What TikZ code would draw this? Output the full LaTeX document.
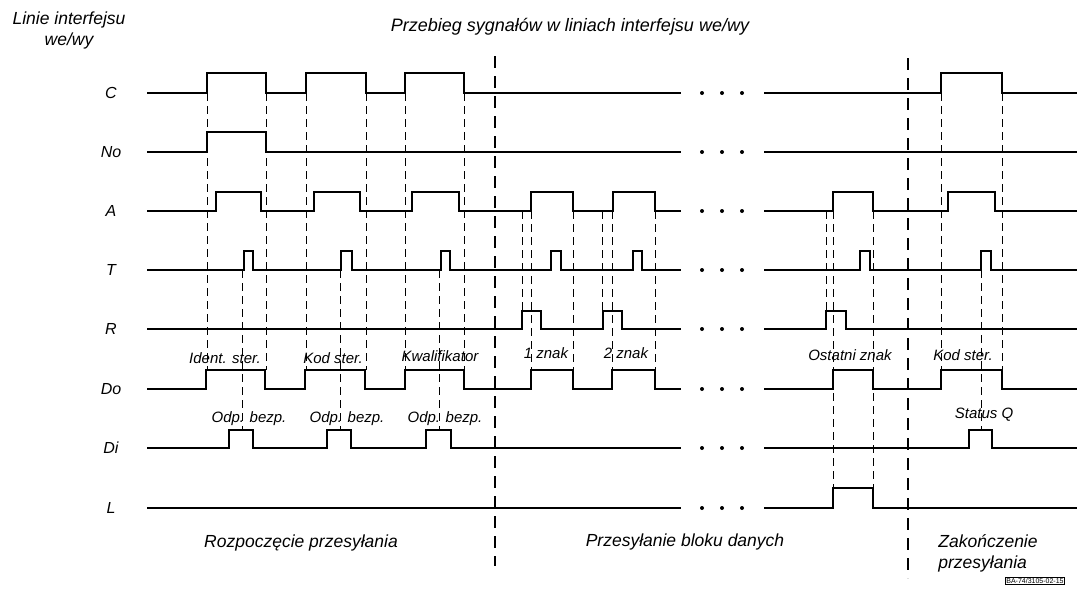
\documentclass[tikz,border=0pt]{standalone}
\usepackage{fontspec}
\setmainfont{Liberation Sans}

\begin{document}
\begin{tikzpicture}[
  x=1pt, y=-1pt,
  sig/.style={line width=1.6pt, line join=miter},
  guide/.style={line width=0.8pt, dash pattern=on 8pt off 5pt},
  phase/.style={line width=1.6pt, dash pattern=on 12pt off 8pt},
  rowlbl/.style={font=\fontsize{16}{18}\selectfont\itshape},
  lbl/.style={font=\fontsize{15}{17}\selectfont\itshape, inner sep=1pt},
  big/.style={font=\fontsize{17.5}{21}\selectfont\itshape, align=center}
]
\useasboundingbox (0,0) rectangle (1080,589);

% Headings
\node[big] (head) at (69,30) {Linie interfejsu\\we/wy};
\node[big, font=\fontsize{18}{21}\selectfont\itshape] (title) at (570,27) {Przebieg sygnałów w liniach interfejsu we/wy};

% Line names
\foreach \n/\y in {C/93, No/152, A/211, T/270, R/329, Do/389, Di/448, L/508} {
    \node[rowlbl] (l\n) at (111,\y) {\n};
}

% Guide lines
\foreach \x in {207, 266, 306, 366, 405, 464, 941, 1002} {
    \draw[guide] (\x,93) -- (\x,370);
}
\foreach \x in {242, 340, 439, 981} {
    \draw[guide] (\x,270) -- (\x,430);
}
\foreach \x/\y in {522/311, 602/311, 826/311, 531/370, 573/370, 612/370, 655/370, 833/488, 873/488} {
    \draw[guide] (\x,211) -- (\x,\y);
}

% Phase borders
\draw[phase] (495,56) -- (495,566);
\draw[phase] (908,58) -- (908,578);

% Signals, left part
\draw[sig] (147,93) -| (207,73) -| (266,93) -| (306,73) -| (366,93) -| (405,73) -| (464,93) -- (681,93);
\draw[sig] (147,152) -| (207,132) -| (266,152) -- (681,152);
\draw[sig] (147,211) -| (216,192) -| (261,211) -| (314,192) -| (360,211) -| (412,192) -| (459,211)
    -| (531,192) -| (573,211) -| (613,192) -| (655,211) -- (681,211);
\draw[sig] (147,270) -| (244,251) -| (253,270) -| (341,251) -| (352,270) -| (441,251) -| (450,270)
    -| (551,251) -| (561,270) -| (633,251) -| (642,270) -- (681,270);
\draw[sig] (147,329) -| (522,311) -| (541,329) -| (603,311) -| (622,329) -- (681,329);
\draw[sig] (147,389) -| (206,370) -| (265,389) -| (305,370) -| (365,389) -| (405,370) -| (464,389)
    -| (531,370) -| (573,389) -| (612,370) -| (655,389) -- (681,389);
\draw[sig] (147,448) -| (229,430) -| (253,448) -| (327,430) -| (351,448) -| (426,430) -| (451,448) -- (681,448);
\draw[sig] (147,508) -- (681,508);

% Signals, right part
\draw[sig] (764,93) -| (941,73) -| (1002,93) -- (1077,93);
\draw[sig] (764,152) -- (1077,152);
\draw[sig] (764,211) -| (833,192) -| (873,211) -| (948,192) -| (995,211) -- (1077,211);
\draw[sig] (764,270) -| (860,251) -| (870,270) -| (981,251) -| (991,270) -- (1077,270);
\draw[sig] (764,329) -| (826,311) -| (846,329) -- (1077,329);
\draw[sig] (764,389) -| (833,370) -| (873,389) -| (941,370) -| (1002,389) -- (1077,389);
\draw[sig] (764,448) -| (969,430) -| (992,448) -- (1077,448);
\draw[sig] (764,508) -| (833,488) -| (873,508) -- (1077,508);

% Dots
\foreach \y in {93, 152, 211, 270, 329, 389, 448, 508} {
    \foreach \x in {702, 722, 742} {
        \fill (\x,\y) circle (2pt);
    }
}

% Data labels
\node[lbl] (d1) at (225,358) {Ident. ster.};
\node[lbl] (d2) at (333,358) {Kod ster.};
\node[lbl] (d3) at (440,356) {Kwalifikator};
\node[lbl] (d4) at (546,353) {1 znak};
\node[lbl] (d5) at (626,353) {2 znak};
\node[lbl] (d6) at (850,355) {Ostatni znak};
\node[lbl] (d7) at (963,355) {Kod ster.};

\node[lbl] (a1) at (249,419) {Odp. bezp.};
\node[lbl] (a2) at (347,419) {Odp. bezp.};
\node[lbl] (a3) at (445,419) {Odp. bezp.};
\node[lbl] (a4) at (984,415) {Status Q};

% Phases
\node[big] (p1) at (301,543) {Rozpoczęcie przesyłania};
\node[big] (p2) at (685,542) {Przesyłanie bloku danych};
\node[big, align=left] (p3) at (988,553) {Zakończenie\\przesyłania};

\node[draw, line width=0.6pt, inner sep=1pt, font=\fontsize{7}{8}\selectfont] (stamp) at (1035,581) {BA-74/3105-02-15};

\end{tikzpicture}
\end{document}
